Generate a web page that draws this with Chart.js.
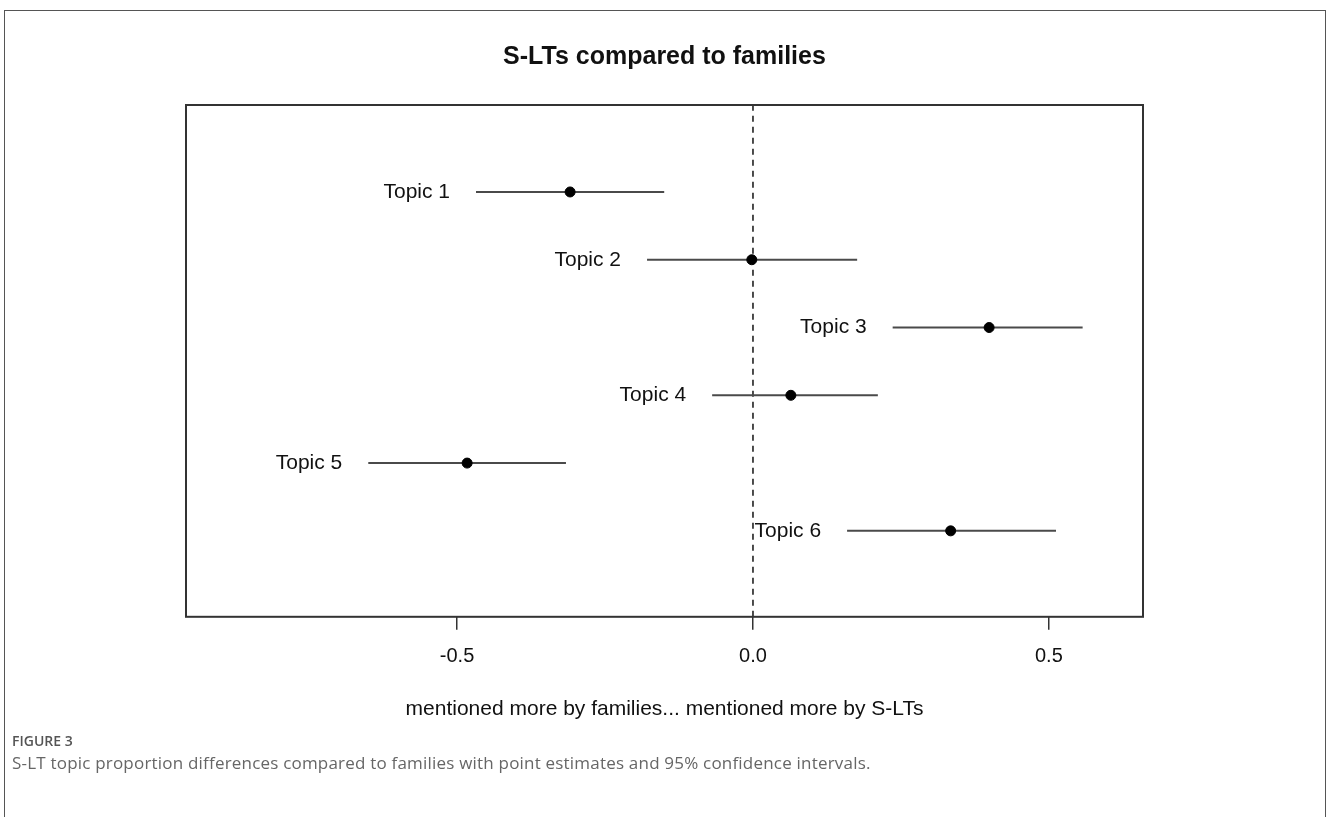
<!DOCTYPE html>
<html>
<head>
<meta charset="utf-8">
<script src="https://cdn.jsdelivr.net/npm/chart.js@4.4.1/dist/chart.umd.min.js"></script>
<style>
  html, body { margin: 0; padding: 0; background: #fff; }
  body { width: 1328px; height: 817px; position: relative; overflow: hidden; }
  #frame { position: absolute; left: 4px; top: 10px; width: 1322px; height: 830px; border: 1.5px solid #555; box-sizing: border-box; }
  #wrap { position: absolute; left: 0; top: 0; width: 1328px; height: 817px; }
  .fig-label { position: absolute; left: 12px; top: 731px; font: 600 14px "Open Sans", sans-serif; color: #555; }
  .fig-caption { position: absolute; left: 12px; top: 751px; font: 400 17px "Open Sans", sans-serif; color: #666; letter-spacing: 0.2px; }
</style>
</head>
<body>
<div id="frame"></div>
<div id="wrap"><canvas id="effectChart" width="1328" height="817"></canvas></div>
<div class="fig-label">FIGURE 3</div>
<div class="fig-caption">S-LT topic proportion differences compared to families with point estimates and 95% confidence intervals.</div>
<script>
// topics, top to bottom
const topics = ['Topic 1', 'Topic 2', 'Topic 3', 'Topic 4', 'Topic 5', 'Topic 6'];
const rank = [6, 5, 4, 3, 2, 1];
const estimate = [-0.309, -0.002, 0.399, 0.064, -0.483, 0.334];
const lower = [-0.468, -0.179, 0.236, -0.069, -0.650, 0.159];
const upper = [-0.150, 0.176, 0.557, 0.211, -0.316, 0.512];
const xTicks = [-0.5, 0, 0.5];

const X_MIN = -0.958, X_MAX = 0.659;
const Y_MIN = -0.268, Y_MAX = 7.283;
const FONT = "'Liberation Sans', Arial, sans-serif";

// one line dataset per confidence interval
const ciSets = topics.map((t, i) => ({
  type: 'line',
  label: t + ' CI',
  data: [{ x: lower[i], y: rank[i] }, { x: upper[i], y: rank[i] }],
  borderColor: '#4a4a4a',
  borderWidth: 2,
  pointRadius: 0,
  order: 2,
}));

const zeroLine = {
  type: 'line',
  label: 'zero',
  data: [{ x: 0, y: Y_MIN }, { x: 0, y: Y_MAX }],
  borderColor: '#111',
  borderWidth: 1.5,
  borderDash: [6, 5],
  pointRadius: 0,
  order: 3,
};

const pointSet = {
  type: 'scatter',
  label: 'estimate',
  data: estimate.map((v, i) => ({ x: v, y: rank[i] })),
  backgroundColor: '#000',
  borderColor: '#000',
  pointRadius: 5,
  order: 1,
};

// topic names to the left of each interval, plus the plot box
const annotate = {
  id: 'annotate',
  afterDatasetsDraw(chart) {
    const { ctx, chartArea: a, scales: { x, y } } = chart;
    ctx.save();
    ctx.font = '21px ' + FONT;
    ctx.fillStyle = '#111';
    ctx.textAlign = 'right';
    ctx.textBaseline = 'middle';
    topics.forEach((t, i) => {
      ctx.fillText(t, x.getPixelForValue(lower[i]) - 26, y.getPixelForValue(rank[i]));
    });
    ctx.strokeStyle = '#333';
    ctx.lineWidth = 2;
    ctx.strokeRect(a.left, a.top, a.right - a.left, a.bottom - a.top);
    ctx.restore();
  },
};

new Chart(document.getElementById('effectChart'), {
  data: { datasets: [...ciSets, zeroLine, pointSet] },
  options: {
    responsive: false,
    animation: false,
    layout: { padding: { left: 186, right: 185, top: 0, bottom: 95 } },
    plugins: {
      legend: { display: false },
      tooltip: { enabled: false },
      title: {
        display: true,
        text: 'S-LTs compared to families',
        color: '#111',
        font: { family: FONT, size: 25, weight: 'bold' },
        padding: { top: 42, bottom: 33 },
      },
    },
    scales: {
      x: {
        type: 'linear',
        min: X_MIN,
        max: X_MAX,
        afterBuildTicks: axis => { axis.ticks = xTicks.map(v => ({ value: v })); },
        ticks: {
          color: '#111',
          padding: 15,
          maxRotation: 0,
          font: { family: FONT, size: 20 },
          callback: v => v.toFixed(1),
        },
        grid: { drawOnChartArea: false, drawTicks: true, tickLength: 13, color: '#333', lineWidth: 1.5 },
        border: { display: false },
        title: {
          display: true,
          text: 'mentioned more by families... mentioned more by S-LTs',
          color: '#111',
          font: { family: FONT, size: 21 },
          padding: { top: 13, bottom: 0 },
        },
      },
      y: { type: 'linear', min: Y_MIN, max: Y_MAX, display: false },
    },
  },
  plugins: [annotate],
});
</script>
</body>
</html>
